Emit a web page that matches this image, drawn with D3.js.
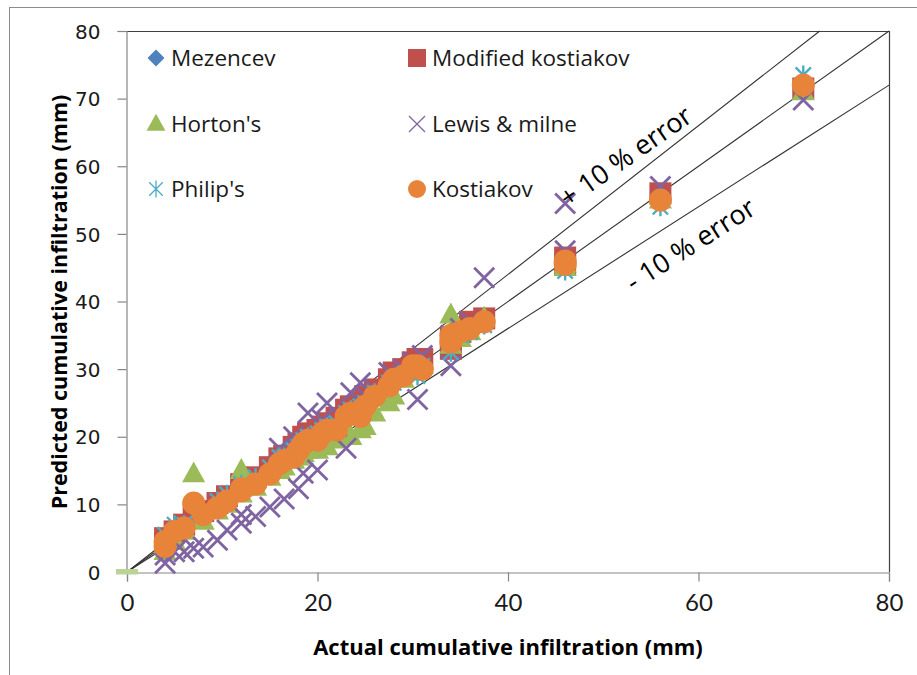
<!DOCTYPE html>
<html><head><meta charset="utf-8">
<script src="https://cdn.jsdelivr.net/npm/d3@7"></script>
<style>body{margin:0;background:#fff}svg{display:block}</style>
</head><body><svg id="c" width="917" height="675"></svg>
<script>
// ---- data ----
const actual     = [4,4,5,6,7,8,9.5,10.5,12,12,13.5,15,16,16.5,17.5,18,18.5,19,20,20.5,21,22,23,23.5,24.5,25,26,27.5,28,29,30,30.5,31,34,34,35,36,37.5,46,46,56,71];
const mezencev   = [4.8,4,5.5,6.8,8,8.8,10,11,12.8,12.5,13.8,15,16.5,17,18,18.5,19.5,20,20.5,21,21.5,22,23.5,24,24.5,25.5,26.5,28,29,29.5,30.5,31,31,34.5,33.5,35,36,37,46.5,45.5,55.5,71.5];
const modKost    = [5,4.2,6,7,8.5,9,10.2,11.2,12.8,13,14,15.5,16.8,17.2,18.5,19,20,20.5,21,21.5,22,22.8,24,24.5,25,26,27,28.5,29.5,30,31,31.5,31.5,33,34.5,35.5,37,37.5,46.5,45.5,56,71.5];
const horton     = [3,4,4.5,6,14.5,7.5,9,10,15,11.5,12.5,14,15,15.5,16.5,17,17.5,18,18,19,18.5,19.5,20.5,20,21,21.5,23.5,25,26,28.5,29.5,30,30.5,38,33.5,34.5,35.5,37.5,45.5,45,55,71];
const lewis      = [1.3,2.5,3,3,3.5,3.7,4.7,6.2,7.2,8.5,8.2,9.6,18.3,10.8,20,12.3,14.6,23.5,15.1,22.5,25,21.5,18.3,26.5,28,26,27,29.5,29,30,31,25.5,32,30.5,35,36,37,43.5,54.5,47.5,57,69.8];
const philip     = [5.5,4.5,7,7,8.5,9,10.5,11.5,13,12.5,14,15.5,17,17,18,18.5,19.5,20,20.5,21,21.5,22,23.5,24,24.5,25,26.5,28,28,29,29.5,29,30.5,32.5,34,35,35.5,36.5,44.5,46,54,73.5];
const kostiakov  = [4.5,3.8,6,6.5,10.2,8.5,9.5,10.5,12.3,12,13,14.5,16,16.5,17,18,19,19.5,19.5,20.5,21,21,23,23.5,23,24.5,26,27.5,28.5,29,30.5,30.5,30,35,34,35.5,36,37,46,45.5,55,72];

const seriesNames = ["Mezencev","Modified kostiakov","Horton's","Lewis & milne","Philip's","Kostiakov"];
const seriesValues = [mezencev, modKost, horton, lewis, philip, kostiakov];
const xTicks = [0,20,40,60,80];
const yTicks = [0,10,20,30,40,50,60,70,80];
const errorFactors = [1.1, 1.0, 0.9];
const errorLabels = ["+ 10 % error","- 10 % error"];
const xTitle = "Actual cumulative infiltration (mm)";
const yTitle = "Predicted cumulative infiltration (mm)";

// ---- styles ----
const colors = ["#4F81BD","#C0504D","#9BBB59","#8064A2","#4BACC6","#E8843A"];
const svg = d3.select("#c");
const x = d3.scaleLinear().domain([0,80]).range([127,889]);
const y = d3.scaleLinear().domain([0,80]).range([572,31]);

// outer frame
svg.append("rect").attr("x",9.5).attr("y",7.5).attr("width",1000).attr("height",1000)
  .attr("fill","none").attr("stroke","#8c8c8c").attr("stroke-width",1);

// plot border top/right
svg.append("path").attr("d",`M${x(0)},${y(80)+0.5}H${x(80)+0.5}V${y(0)}`)
  .attr("fill","none").attr("stroke","#404040").attr("stroke-width",1.2);

// axes
const xAxis = svg.append("g").attr("transform",`translate(0,${y(0)+0.5})`)
  .call(d3.axisBottom(x).tickValues(xTicks).tickSize(9).tickPadding(12).tickFormat(d3.format("d")));
const yAxis = svg.append("g").attr("transform",`translate(${x(0)-0.5},0)`)
  .call(d3.axisLeft(y).tickValues(yTicks).tickSize(9).tickPadding(17).tickFormat(d3.format("d")));
[xAxis,yAxis].forEach(a=>{
  a.select(".domain").attr("stroke","#868686").attr("stroke-width",1.2);
  a.selectAll(".tick line").attr("stroke","#868686").attr("stroke-width",1.2);
  a.selectAll("text").attr("fill","#1a1a1a");
});
xAxis.selectAll("text").attr("font-family","Lato, sans-serif").attr("font-size",24);
yAxis.selectAll("text").attr("font-family","DejaVu Sans, sans-serif").attr("font-size",20).attr("dy","0.36em");

// axis titles
svg.append("text").attr("x",508).attr("y",655).attr("text-anchor","middle")
  .attr("font-family","Open Sans, sans-serif").attr("font-weight","bold").attr("font-size",22)
  .attr("fill","#000").text(xTitle);
svg.append("text").attr("transform","translate(67,302) rotate(-90)").attr("text-anchor","middle")
  .attr("font-family","Open Sans, sans-serif").attr("font-weight","bold").attr("font-size",21.5)
  .attr("fill","#000").text(yTitle);

// error lines
errorFactors.forEach(f=>{
  const xe = Math.min(80, 80/f), ye = Math.min(80, 80*f);
  svg.append("line").attr("x1",x(0)).attr("y1",y(0)).attr("x2",x(xe)).attr("y2",y(ye))
    .attr("stroke","#333").attr("stroke-width",1.1);
});

// marker at origin
svg.append("rect").attr("x",x(0)-11).attr("y",y(0)-3).attr("width",22).attr("height",5.5)
  .attr("fill","#bcd396");

// markers
function marker(g, i, s, legend){
  const c = colors[i];
  if(i===0){ // diamond
    g.append("path").attr("d",`M0,${-s}L${s},0L0,${s}L${-s},0Z`).attr("fill",c);
  } else if(i===1){
    g.append("rect").attr("x",-s).attr("y",-s).attr("width",2*s).attr("height",2*s).attr("fill",c);
  } else if(i===2){
    const h = s*1.9;
    g.append("path").attr("d",`M0,${-h*0.6}L${s*1.05},${h*0.4}L${-s*1.05},${h*0.4}Z`).attr("fill",c);
  } else if(i===3){
    g.append("path").attr("d",`M${-s},${-s}L${s},${s}M${-s},${s}L${s},${-s}`)
      .attr("stroke",c).attr("stroke-width",legend?1.3:2.8).attr("fill","none");
  } else if(i===4){
    const a=s*0.85;
    g.append("path").attr("d",`M${-a},${-a}L${a},${a}M${-a},${a}L${a},${-a}M0,${-s*1.05}L0,${s*1.05}`)
      .attr("stroke",c).attr("stroke-width",legend?1.3:2.4).attr("fill","none");
  } else {
    g.append("circle").attr("r",s).attr("fill",c);
  }
}
const plotSizes = [8,11,11,10,9,11.5];
seriesValues.forEach((vals,i)=>{
  const g = svg.append("g").attr("class","series-"+i);
  vals.forEach((v,k)=>{
    const m = g.append("g").attr("transform",`translate(${x(actual[k])},${y(v)})`);
    marker(m,i,plotSizes[i],false);
  });
});

// error labels
function bandLabel(text, f, xv, ang, dy){
  svg.append("text").attr("transform",`translate(${x(xv)},${y(xv*f)}) rotate(${ang})`)
    .attr("text-anchor","middle").attr("dy",dy)
    .attr("font-family","Open Sans, sans-serif").attr("font-size",27).attr("fill","#000").text(text);
}
bandLabel(errorLabels[0], errorFactors[0], 53.6, -35, -11);
bandLabel(errorLabels[1], errorFactors[2], 57.6, -32.6, 37);

// legend
const legendPos = [[156,58],[417,58],[156,124],[417,124],[156,189],[417,189]];
const legendSizes = [8.5,9,9,8,8,9];
seriesNames.forEach((n,i)=>{
  const [lx,ly] = legendPos[i];
  const g = svg.append("g").attr("transform",`translate(${lx},${ly})`);
  marker(g,i,legendSizes[i],true);
  svg.append("text").attr("x",lx+15).attr("y",ly).attr("dy","0.36em")
    .attr("font-family","Open Sans, sans-serif").attr("font-size",22.5).attr("fill","#1a1a1a").text(n);
});
</script></body></html>
